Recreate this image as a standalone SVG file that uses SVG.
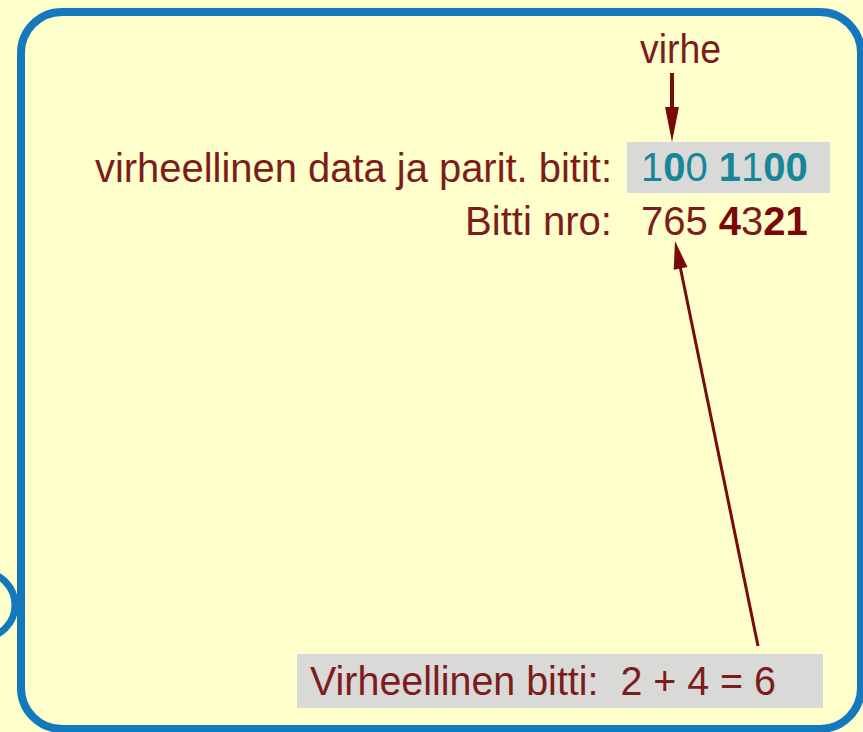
<svg xmlns="http://www.w3.org/2000/svg" width="863" height="732" viewBox="0 0 863 732">
  <defs>
    <style>
      .t { font-family: "Liberation Sans", Arial, sans-serif; font-size: 40px; fill: #7d1c1c; }
      .bits { fill: #16879a; }
      .b { font-weight: bold; }
      .box { fill: #d9d9d7; }
      .frame { fill: #ffffcc; stroke: #1379bc; stroke-width: 8; }
      .arr { stroke: #780a0a; fill: none; }
      .head { fill: #780a0a; }
    </style>
  </defs>
  <rect width="863" height="732" fill="#ffffcc"/>
  <g id="side-circle">
    <circle cx="-18" cy="605" r="33" fill="#ffffcc" stroke="#1379bc" stroke-width="7"/>
  </g>
  <g id="panel">
    <rect class="frame" x="21" y="12" width="840" height="717" rx="41" ry="41"/>
  </g>
  <g id="label-virhe">
    <text class="t" x="640" y="63" font-size="37" textLength="81" lengthAdjust="spacingAndGlyphs">virhe</text>
  </g>
  <g id="row-data">
    <text class="t" x="95" y="182" textLength="517" lengthAdjust="spacingAndGlyphs">virheellinen data ja parit. bitit:</text>
    <rect class="box" x="627" y="142" width="203" height="51"/>
    <text class="t bits" x="641" y="181"><tspan>1</tspan><tspan class="b">0</tspan><tspan>0 </tspan><tspan class="b">1</tspan><tspan>1</tspan><tspan class="b">00</tspan></text>
  </g>
  <g id="row-bitnro">
    <text class="t" x="465" y="235" textLength="147" lengthAdjust="spacingAndGlyphs">Bitti nro:</text>
    <text class="t" x="641" y="235"><tspan>765 </tspan><tspan class="b" fill="#7a0808">4</tspan><tspan>3</tspan><tspan class="b" fill="#7a0808">21</tspan></text>
  </g>
  <g id="result">
    <rect class="box" x="297" y="654" width="526" height="54"/>
    <text class="t" x="310" y="695" textLength="466" lengthAdjust="spacingAndGlyphs">Virheellinen bitti:&#160; 2 + 4 = 6</text>
  </g>
  <g id="connectors">
    <line class="arr" x1="672" y1="73" x2="672" y2="112" stroke-width="4"/>
    <polygon class="head" points="665,107 679,107 672,142"/>
    <line class="arr" x1="758" y1="646" x2="680" y2="266" stroke-width="3"/>
    <polygon class="head" points="675,241 687.5,267 673.7,269.8"/>
  </g>
</svg>
